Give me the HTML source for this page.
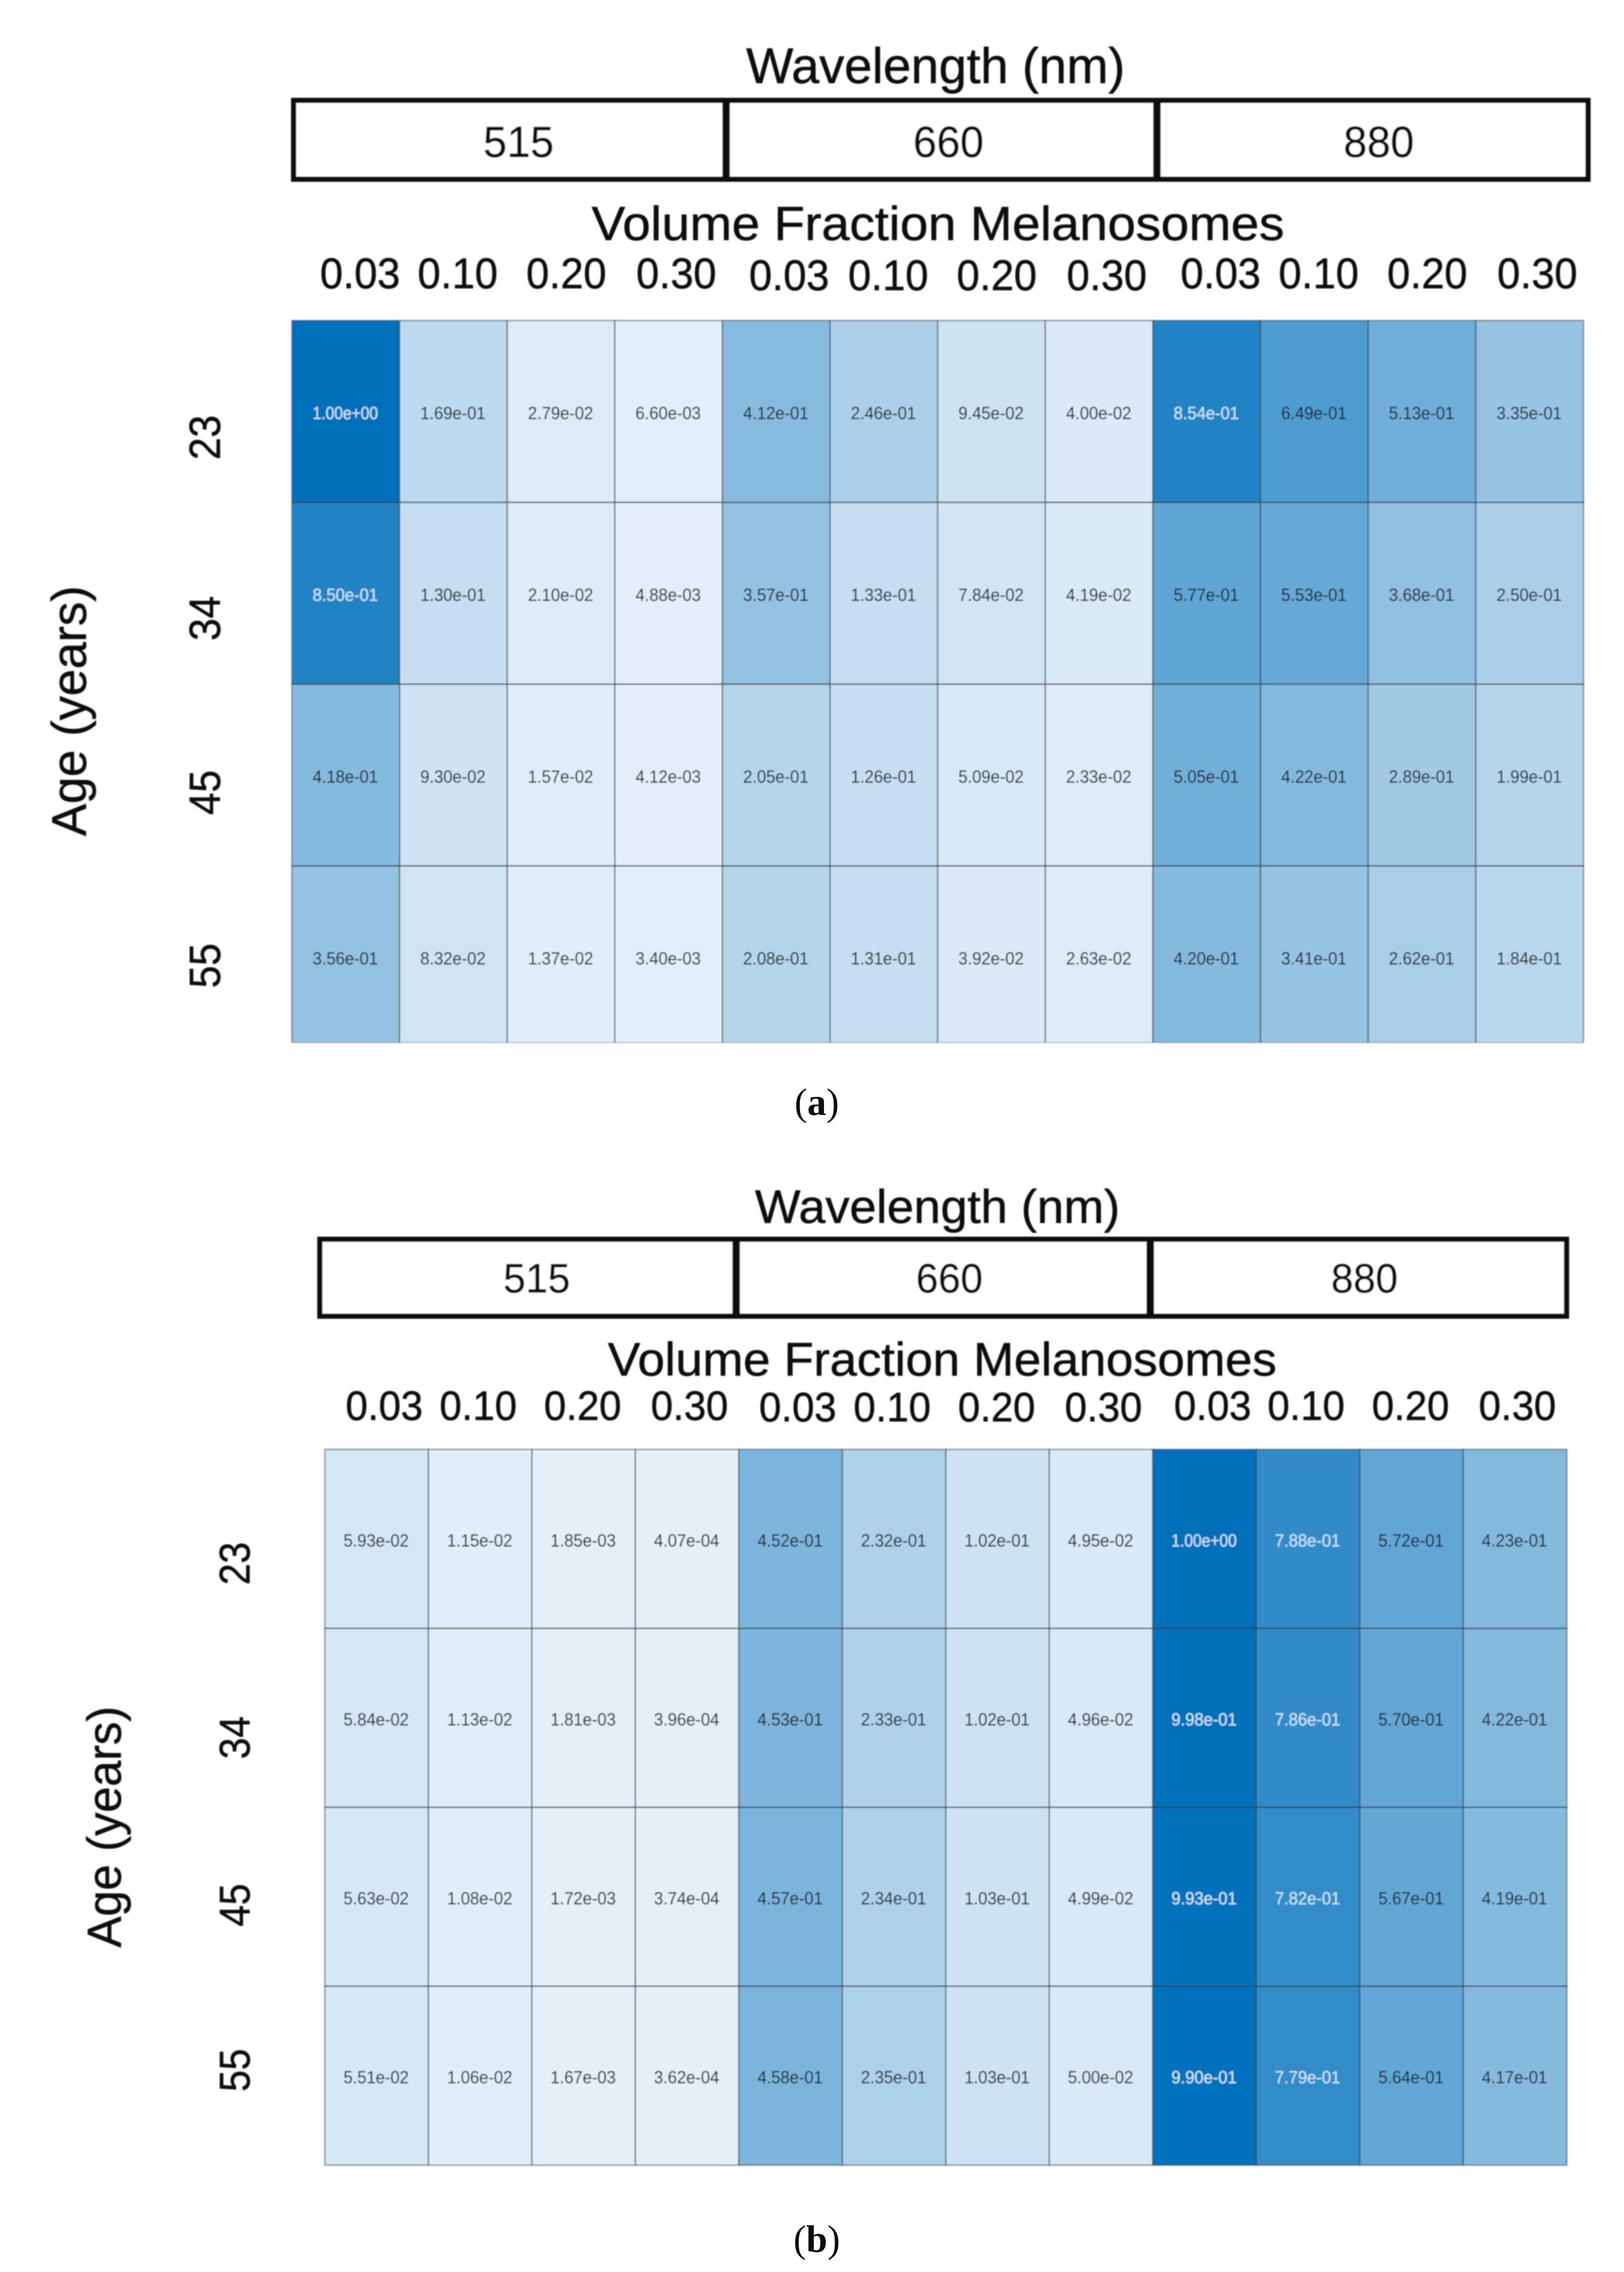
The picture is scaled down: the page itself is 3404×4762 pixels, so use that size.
<!DOCTYPE html>
<html lang="en">
<head>
<meta charset="utf-8">
<title>Normalized fluence heatmaps by wavelength, melanosome fraction and age</title>
<style>
  html, body { margin: 0; padding: 0; background: #ffffff; }
  #figure { display: block; width: 3404px; height: 4762px; }
  text { font-family: "Liberation Sans", Arial, sans-serif; fill: #0c0c0c; stroke: #0c0c0c; stroke-width: 0.9; }
  .caption { font-family: "Liberation Serif", "Times New Roman", serif; stroke: none; }
</style>
</head>
<body>
<svg id="figure" xmlns="http://www.w3.org/2000/svg" width="3404" height="4762" viewBox="0 0 3404 4762">
  <defs>
    <filter id="soft" filterUnits="userSpaceOnUse" x="0" y="0" width="3404" height="4762">
      <feGaussianBlur stdDeviation="1.2"/>
    </filter>
  </defs>
  <rect x="0" y="0" width="3404" height="4762" fill="#ffffff"/>
  <g id="panel-a" filter="url(#soft)"></g>
  <g id="panel-b" filter="url(#soft)"></g>
  <text class="caption" x="1712" y="2337" font-size="80" text-anchor="middle">(<tspan font-weight="bold">a</tspan>)</text>
  <text class="caption" x="1712" y="4720" font-size="80" text-anchor="middle">(<tspan font-weight="bold">b</tspan>)</text>
</svg>
<script>
const wavelengths = ["515", "660", "880"];
const fractionLabels = ["0.03", "0.10", "0.20", "0.30"];
const ages = ["23", "34", "45", "55"];

const valuesA23 = [1.00e+00, 1.69e-01, 2.79e-02, 6.60e-03, 4.12e-01, 2.46e-01, 9.45e-02, 4.00e-02, 8.54e-01, 6.49e-01, 5.13e-01, 3.35e-01];
const valuesA34 = [8.50e-01, 1.30e-01, 2.10e-02, 4.88e-03, 3.57e-01, 1.33e-01, 7.84e-02, 4.19e-02, 5.77e-01, 5.53e-01, 3.68e-01, 2.50e-01];
const valuesA45 = [4.18e-01, 9.30e-02, 1.57e-02, 4.12e-03, 2.05e-01, 1.26e-01, 5.09e-02, 2.33e-02, 5.05e-01, 4.22e-01, 2.89e-01, 1.99e-01];
const valuesA55 = [3.56e-01, 8.32e-02, 1.37e-02, 3.40e-03, 2.08e-01, 1.31e-01, 3.92e-02, 2.63e-02, 4.20e-01, 3.41e-01, 2.62e-01, 1.84e-01];

const valuesB23 = [5.93e-02, 1.15e-02, 1.85e-03, 4.07e-04, 4.52e-01, 2.32e-01, 1.02e-01, 4.95e-02, 1.00e+00, 7.88e-01, 5.72e-01, 4.23e-01];
const valuesB34 = [5.84e-02, 1.13e-02, 1.81e-03, 3.96e-04, 4.53e-01, 2.33e-01, 1.02e-01, 4.96e-02, 9.98e-01, 7.86e-01, 5.70e-01, 4.22e-01];
const valuesB45 = [5.63e-02, 1.08e-02, 1.72e-03, 3.74e-04, 4.57e-01, 2.34e-01, 1.03e-01, 4.99e-02, 9.93e-01, 7.82e-01, 5.67e-01, 4.19e-01];
const valuesB55 = [5.51e-02, 1.06e-02, 1.67e-03, 3.62e-04, 4.58e-01, 2.35e-01, 1.03e-01, 5.00e-02, 9.90e-01, 7.79e-01, 5.64e-01, 4.17e-01];

const SVGNS = "http://www.w3.org/2000/svg";

function shape(parent, tag, attrs) {
  const el = document.createElementNS(SVGNS, tag);
  for (const k in attrs) el.setAttribute(k, attrs[k]);
  parent.appendChild(el);
  return el;
}

function label(parent, str, x, y, size, length, rotated) {
  const el = shape(parent, "text", {
    x: x, y: y, "font-size": size, "text-anchor": "middle",
    textLength: length, lengthAdjust: "spacingAndGlyphs"
  });
  if (rotated) el.setAttribute("transform", "rotate(-90 " + x + " " + y + ")");
  el.textContent = str;
  return el;
}

/* Colour axis: linear ramp from the palest blue (0) to full blue (1). */
function colorScale(v) {
  const t = Math.max(0, Math.min(1, v));
  const r = Math.round(228 + (0 - 228) * t);
  const g = Math.round(239 + (112 - 239) * t);
  const b = Math.round(248 + (187 - 248) * t);
  return "rgb(" + r + "," + g + "," + b + ")";
}

function formatValue(v) {
  const parts = v.toExponential(2).split("e");
  const sign = parts[1][0];
  const digits = parts[1].slice(1).padStart(2, "0");
  return parts[0] + "e" + sign + digits;
}

function drawPanel(root, rows, L) {
  const plotW = L.plotRight - L.plotLeft;
  const nCols = wavelengths.length * fractionLabels.length;
  const colW = plotW / nCols;
  const xBand = function (i) { return L.plotLeft + colW * i; };
  const yBand = function (j) { return L.plotTop + L.rowH * j; };
  const plotBottom = L.plotTop + L.plotH;

  /* Titles */
  const wavelengthTitle = label(root, "Wavelength (nm)", L.wlTitle[0], L.wlTitle[1], L.wlTitle[2], L.wlTitle[3]);
  
  
  const fractionTitle = label(root, "Volume Fraction Melanosomes", L.vfTitle[0], L.vfTitle[1], L.vfTitle[2], L.vfTitle[3]);
  
  
  const ageTitle = label(root, "Age (years)", L.ageTitle[0], L.ageTitle[1], L.ageTitle[2], L.ageTitle[3], true);
  
  

  /* Wavelength header box */
  const box = shape(root, "rect", {
    x: L.boxLeft + 5.5, y: L.boxTop + 5.5,
    width: L.boxRight - L.boxLeft - 11, height: L.boxBottom - L.boxTop - 11,
    fill: "#ffffff", stroke: "#0a0a0a", "stroke-width": 11
  });
  
  
  L.dividers.forEach(function (dx) {
    const divider = shape(root, "line", {
      x1: dx, x2: dx, y1: L.boxTop, y2: L.boxBottom,
      stroke: "#0a0a0a", "stroke-width": 16
    });
    
    
  });
  wavelengths.forEach(function (w, k) {
    const band = label(root, w, L.bandX[k], L.bandY, L.bandSize, L.bandLen);
    
    
  });

  /* Fraction ticks */
  for (let i = 0; i < nCols; i++) {
    const f = i % fractionLabels.length;
    const group = Math.floor(i / fractionLabels.length);
    const tick = label(root, fractionLabels[f], xBand(i) + colW / 2 + L.tickNudge[f] + (f === 0 && group > 0 ? L.groupNudge[group] : 0),
      L.tickY + L.tickGroupY[group], L.tickSize, L.tickLen);
    
    
  }

  /* Age ticks */
  ages.forEach(function (a, j) {
    const cy = L.ageStart + L.ageStep * j + L.ageNudge[j];
    const ageTick = label(root, a, L.ageX, cy, L.ageSize, L.ageLen, true);
    
    
  });

  /* Cells */
  rows.forEach(function (row, j) {
    row.forEach(function (v, i) {
      const top = yBand(j);
      const h = Math.min(L.rowH, plotBottom - top);
      const cell = shape(root, "rect", {
        x: xBand(i), y: top, width: colW, height: h, fill: colorScale(v),
        stroke: "rgba(50,62,78,0.55)", "stroke-width": 3
      });
      
      
    });
  });

  /* Row separators are heavier than the column rules */
  for (let j = 1; j < rows.length; j++) {
    const rule = shape(root, "line", {
      x1: L.plotLeft, x2: L.plotRight, y1: yBand(j), y2: yBand(j),
      stroke: "rgba(50,62,78,0.4)", "stroke-width": 3
    });
    
    
  }

  /* Cell values */
  rows.forEach(function (row, j) {
    row.forEach(function (v, i) {
      const top = yBand(j);
      const text = label(root, formatValue(v), xBand(i) + colW / 2 - 1, top + L.rowH / 2 + 16, 37, 137);
      const ink = v > 0.7 ? "#c9e4f5" : "#1d2530";
      text.style.fill = ink;
      text.style.stroke = ink;
      text.style.strokeWidth = "0.3";
      
      
    });
  });

  /* Panel (a) is cropped flush at the plot bottom, with no closing rule */
  if (L.cropBottom) {
    const crop = shape(root, "rect", {
      x: L.plotLeft - 4, y: plotBottom, width: plotW + 8, height: 5, fill: "#ffffff"
    });
    
    
  }
}

const layoutA = {
  plotLeft: 612, plotRight: 3319, plotTop: 672, plotH: 1514, rowH: 381, cropBottom: true,
  boxLeft: 610, boxRight: 3334, boxTop: 205, boxBottom: 381,
  dividers: [1522, 2425],
  bandX: [1087, 1988, 2890], bandY: 329, bandSize: 92, bandLen: 148,
  wlTitle: [1961, 174, 105, 794],
  vfTitle: [1966, 503, 100, 1452],
  ageTitle: [180, 1490, 102, 525],
  tickY: 604, tickGroupY: [0, 4, 0], tickSize: 90, tickLen: 168,
  tickNudge: [30, 9, 11, 16], groupNudge: [0, -3, -1],
  ageX: 461, ageSize: 92, ageLen: 94,
  ageStart: 917, ageStep: 369, ageNudge: [0, 10, 6, 0]
};

const layoutB = {
  plotLeft: 681, plotRight: 3284, plotTop: 3038, plotH: 1500, rowH: 375, cropBottom: false,
  boxLeft: 665, boxRight: 3289, boxTop: 2592, boxBottom: 2764,
  dividers: [1543, 2411],
  bandX: [1125, 1990, 2860], bandY: 2709, bandSize: 86, bandLen: 140,
  wlTitle: [1965, 2563, 98, 765],
  vfTitle: [1975, 2883, 98, 1402],
  ageTitle: [253, 3829, 100, 506],
  tickY: 2976, tickGroupY: [0, 3, 0], tickSize: 86, tickLen: 162,
  tickNudge: [16, -4, -2, 5], groupNudge: [0, -1, 1],
  ageX: 523, ageSize: 90, ageLen: 90,
  ageStart: 3277, ageStep: 354, ageNudge: [0, 11, 8, 0]
};

drawPanel(document.getElementById("panel-a"), [valuesA23, valuesA34, valuesA45, valuesA55], layoutA);
drawPanel(document.getElementById("panel-b"), [valuesB23, valuesB34, valuesB45, valuesB55], layoutB);
</script>
</body>
</html>
